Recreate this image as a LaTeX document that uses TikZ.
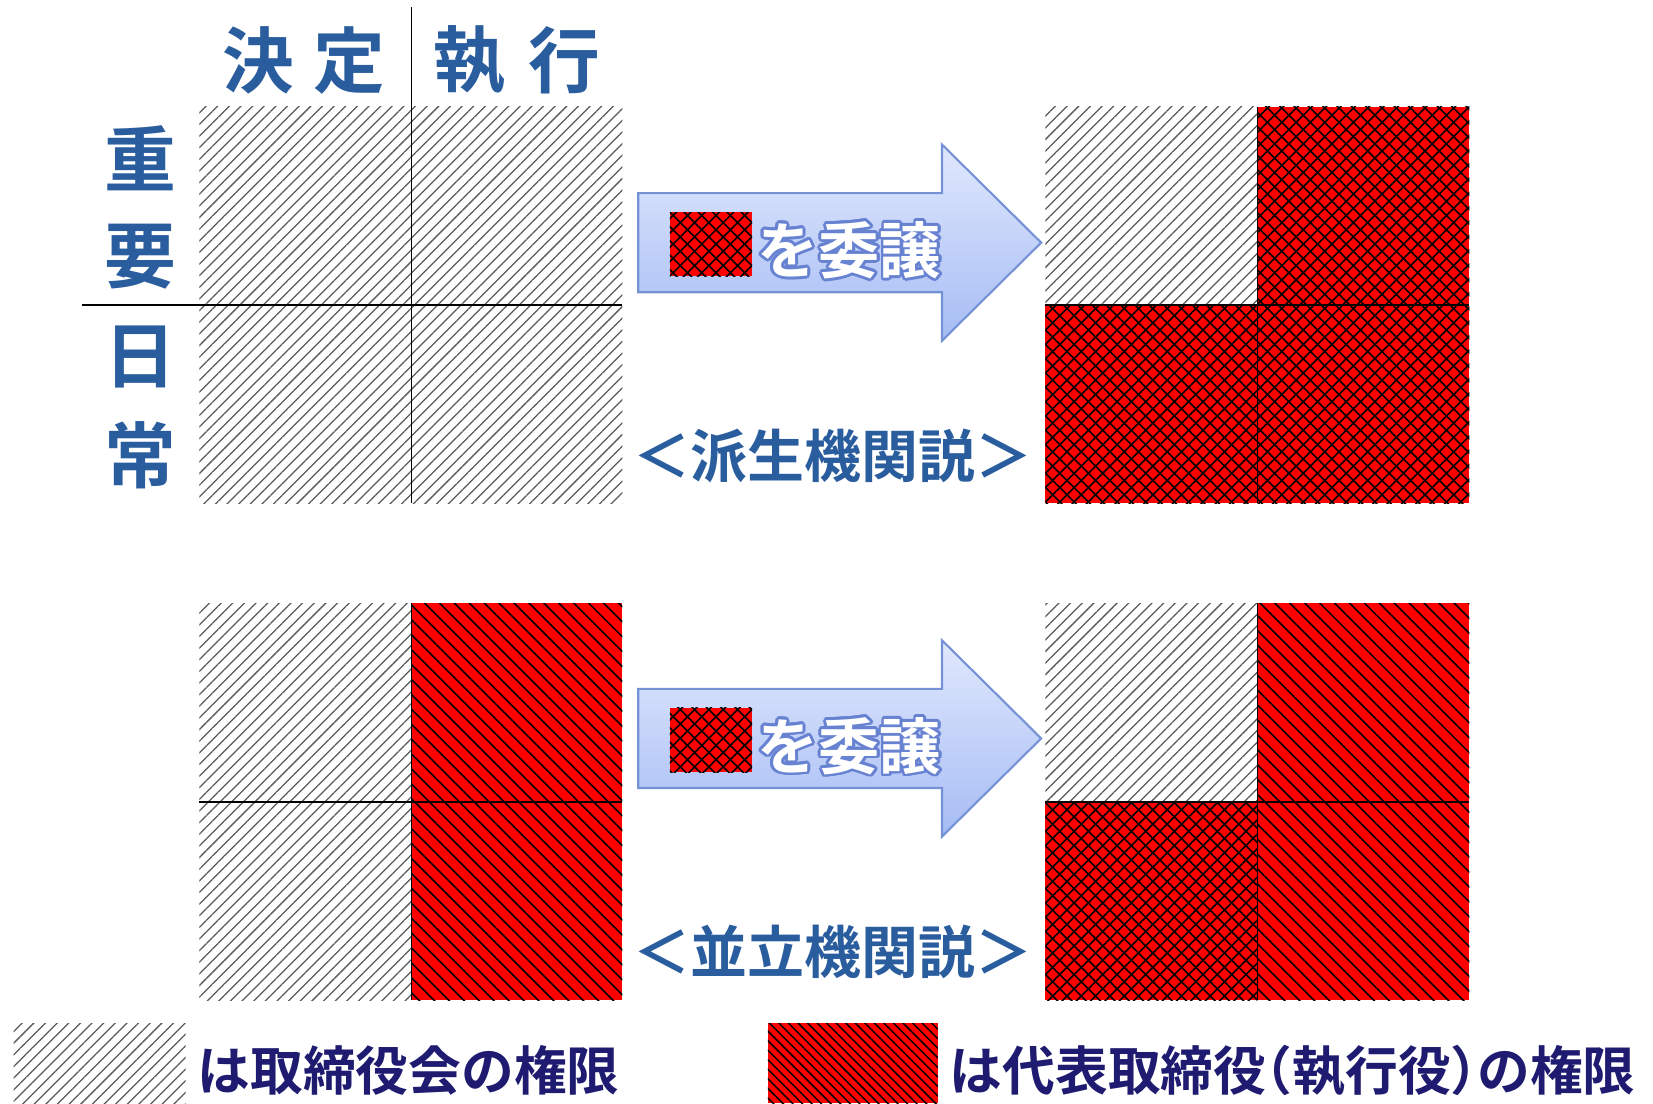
\documentclass[tikz,border=0pt]{standalone}
\usepackage{fontspec}
\newfontfamily\jp{Noto Sans CJK JP Bold}
\newfontfamily\jph{Noto Sans CJK JP Bold}[RawFeature=+halt]
\usetikzlibrary{patterns.meta}
\definecolor{lblue}{RGB}{42,93,158}
\definecolor{navy}{RGB}{30,27,112}
\definecolor{arrowtop}{RGB}{224,232,253}
\definecolor{arrowbot}{RGB}{166,188,244}
\definecolor{arrowline}{RGB}{118,146,214}
\definecolor{outl}{RGB}{104,130,210}
\tikzset{
  greyhatch/.style={pattern={Lines[angle=45,distance=3.9pt,line width=0.6pt]},pattern color=black!65},
  reddiag/.style={preaction={fill=red},pattern={Lines[angle=-45,distance=5pt,line width=0.75pt]},pattern color=black},
  redcross/.style={preaction={fill=red},pattern={Hatch[angle=45,distance=4.8pt,line width=0.75pt]},pattern color=black},
  divider/.style={line width=0.8pt,black},
  head/.style={font=\jp\fontsize{34}{34}\selectfont,text=lblue,inner sep=0pt},
  theory/.style={font=\jp\fontsize{27}{27}\selectfont,text=lblue,inner sep=0pt},
  deleg/.style={font=\jp\fontsize{29}{29}\selectfont,inner sep=0pt},
  legendtext/.style={font=\jp\fontsize{25}{25}\selectfont,text=navy,inner sep=0pt,anchor=west},
  bigarrow/.style={top color=arrowtop,bottom color=arrowbot,draw=arrowline,line width=1pt,line join=miter}
}
\begin{document}
\begin{tikzpicture}[x=0.5pt,y=-0.5pt]
\useasboundingbox (0,0) rectangle (1567,1046);
% ---------- top-left grid ----------
\path[greyhatch] (189,101) rectangle (590,477);
\draw[divider] (390,7) -- (390,477);
\draw[divider] (78,289) -- (590,289);
\node[head] (h1) at (245,57) {決};
\node[head] (h2) at (331,57) {定};
\node[head] (h3) at (445,57) {執};
\node[head] (h4) at (535,57) {行};
\node[head] (s1) at (133,150) {重};
\node[head] (s2) at (133,243) {要};
\node[head] (s3) at (133,338) {日};
\node[head] (s4) at (133,432) {常};
% ---------- top arrow ----------
\shade[bigarrow] (605,183) -- (893,183) -- (893,137) -- (987,230) -- (893,323) -- (893,277) -- (605,277) -- cycle;
\path[redcross] (635,201) rectangle (713,262);
\foreach \a in {0,22.5,...,337.5}
  \node[deleg,text=outl,shift={(\a:1.3pt)}] at (805,237) {を委譲};
\node[deleg,text=white] (d1) at (805,237) {を委譲};
\node[theory] (t1) at (790,432) {＜派生機関説＞};
% ---------- top-right grid ----------
\path[greyhatch] (991,101) rectangle (1192,289);
\path[redcross] (1192,101) rectangle (1393,289);
\path[redcross] (991,289) rectangle (1192,477);
\path[redcross] (1192,289) rectangle (1393,477);
\draw[divider] (1192,101) -- (1192,477);
\draw[divider] (991,289) -- (1393,289);
% ---------- bottom-left grid ----------
\path[greyhatch] (189,572) rectangle (390,948);
\path[reddiag] (390,572) rectangle (590,948);
\draw[divider] (390,572) -- (390,948);
\draw[divider] (189,760) -- (590,760);
% ---------- bottom arrow ----------
\shade[bigarrow] (605,653) -- (893,653) -- (893,607) -- (987,700) -- (893,793) -- (893,747) -- (605,747) -- cycle;
\path[redcross] (635,671) rectangle (713,732);
\foreach \a in {0,22.5,...,337.5}
  \node[deleg,text=outl,shift={(\a:1.3pt)}] at (805,707) {を委譲};
\node[deleg,text=white] (d2) at (805,707) {を委譲};
\node[theory] (t2) at (790,902) {＜並立機関説＞};
% ---------- bottom-right grid ----------
\path[greyhatch] (991,572) rectangle (1192,760);
\path[reddiag] (1192,572) rectangle (1393,760);
\path[redcross] (991,760) rectangle (1192,948);
\path[reddiag] (1192,760) rectangle (1393,948);
\draw[divider] (1192,572) -- (1192,948);
\draw[divider] (991,760) -- (1393,760);
% ---------- legend ----------
\path[greyhatch] (13,970) rectangle (176,1046);
\node[legendtext] (l1) at (187,1015) {は取締役会の権限};
\path[reddiag,pattern={Lines[angle=-45,distance=3.2pt,line width=0.7pt]}] (728,970) rectangle (889,1046);
\node[legendtext] (l2) at (900,1015) {は代表取締役{\jph（}執行役{\jph）}の権限};
\end{tikzpicture}
\end{document}
